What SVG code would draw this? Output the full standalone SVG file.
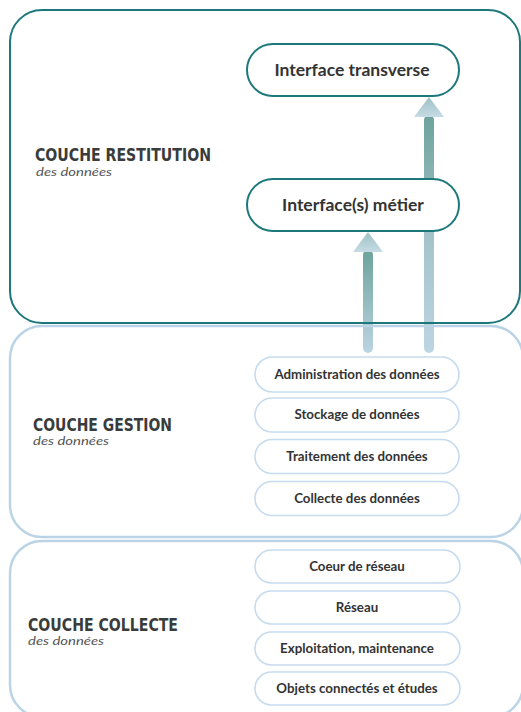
<svg xmlns="http://www.w3.org/2000/svg" width="521" height="712" viewBox="0 0 521 712">
<defs>
<linearGradient id="gShaftL" x1="0" y1="252" x2="0" y2="353" gradientUnits="userSpaceOnUse">
<stop offset="0" stop-color="#6ea39c"/><stop offset="1" stop-color="#bcd5e3"/>
</linearGradient>
<linearGradient id="gShaftR" x1="0" y1="117" x2="0" y2="353" gradientUnits="userSpaceOnUse">
<stop offset="0" stop-color="#6ea39c"/><stop offset="0.5" stop-color="#a3c3c9"/><stop offset="1" stop-color="#bcd5e3"/>
</linearGradient>
<linearGradient id="gHead" x1="0" y1="0" x2="0" y2="1">
<stop offset="0" stop-color="#9dc1c3"/><stop offset="1" stop-color="#c6dbe5"/>
</linearGradient>
<style>
.layer{fill:none;stroke-width:2.5}
.top{stroke:#1c787b;stroke-width:2}
.light{stroke:#bad4e5}
.pillA{fill:#fff;stroke:#1c787b;stroke-width:2}
.pillB{fill:#fff;stroke:#c6dbef;stroke-width:1.6}
.tA{font-family:Lato,"Open Sans",sans-serif;font-weight:700;font-size:17.5px;fill:#333;text-anchor:middle}
.tB{font-family:Lato,"Open Sans",sans-serif;font-weight:700;font-size:13.3px;fill:#333;text-anchor:middle}
.h{font-family:"DejaVu Sans",sans-serif;font-weight:bold;font-size:17px;fill:#3a3c3c}
.s{font-family:Lato,"Open Sans",sans-serif;font-style:italic;font-weight:400;font-size:11px;fill:#555}
</style>
</defs>
<rect width="521" height="712" fill="#fff"/>

<g id="connectors">
<rect x="363" y="250" width="10" height="103" rx="5" fill="url(#gShaftL)"/>
<polygon points="368,232 383,252 353,252" fill="url(#gHead)"/>
<rect x="424" y="115" width="10" height="238" rx="5" fill="url(#gShaftR)"/>
<polygon points="429,97 444,117 414,117" fill="url(#gHead)"/>
</g>

<g id="layer-collecte">
<rect class="layer light" x="10" y="541" width="513" height="176" rx="32"/>
<text class="h" x="28" y="631" textLength="150" lengthAdjust="spacingAndGlyphs">COUCHE COLLECTE</text>
<text class="s" x="28" y="645" textLength="76" lengthAdjust="spacingAndGlyphs">des données</text>
</g>
<g id="layer-gestion">
<rect class="layer light" x="10" y="326" width="513" height="211" rx="32"/>
<text class="h" x="33" y="431" textLength="139" lengthAdjust="spacingAndGlyphs">COUCHE GESTION</text>
<text class="s" x="33" y="445" textLength="76" lengthAdjust="spacingAndGlyphs">des données</text>
</g>
<g id="layer-restitution">
<rect class="layer top" x="10" y="10" width="510" height="313" rx="32"/>
<text class="h" x="35" y="161" textLength="176" lengthAdjust="spacingAndGlyphs">COUCHE RESTITUTION</text>
<text class="s" x="36" y="176" textLength="76" lengthAdjust="spacingAndGlyphs">des données</text>
</g>

<g id="interface-transverse">
<rect class="pillA" x="247" y="44" width="212" height="52" rx="26"/>
<text class="tA" x="352" y="76">Interface transverse</text>
</g>
<g id="interfaces-metier">
<rect class="pillA" x="247" y="179" width="212" height="52" rx="26"/>
<text class="tA" x="353" y="211">Interface(s) métier</text>
</g>

<g id="administration">
<rect class="pillB" x="255" y="357" width="204" height="35" rx="17.5"/>
<text class="tB" x="357" y="379">Administration des données</text>
</g>
<g id="stockage">
<rect class="pillB" x="255" y="398" width="204" height="34" rx="17"/>
<text class="tB" x="357" y="419">Stockage de données</text>
</g>
<g id="traitement">
<rect class="pillB" x="255" y="439.5" width="204" height="34" rx="17"/>
<text class="tB" x="357" y="461">Traitement des données</text>
</g>
<g id="collecte-donnees">
<rect class="pillB" x="255" y="481.5" width="204" height="34" rx="17"/>
<text class="tB" x="357" y="503">Collecte des données</text>
</g>

<g id="coeur-reseau">
<rect class="pillB" x="255" y="550" width="205" height="33" rx="16.5"/>
<text class="tB" x="357" y="571">Coeur de réseau</text>
</g>
<g id="reseau">
<rect class="pillB" x="255" y="591" width="205" height="33" rx="16.5"/>
<text class="tB" x="357" y="612">Réseau</text>
</g>
<g id="exploitation">
<rect class="pillB" x="255" y="632" width="205" height="33" rx="16.5"/>
<text class="tB" x="357" y="653">Exploitation, maintenance</text>
</g>
<g id="objets">
<rect class="pillB" x="255" y="672" width="205" height="33" rx="16.5"/>
<text class="tB" x="357" y="693">Objets connectés et études</text>
</g>
</svg>
